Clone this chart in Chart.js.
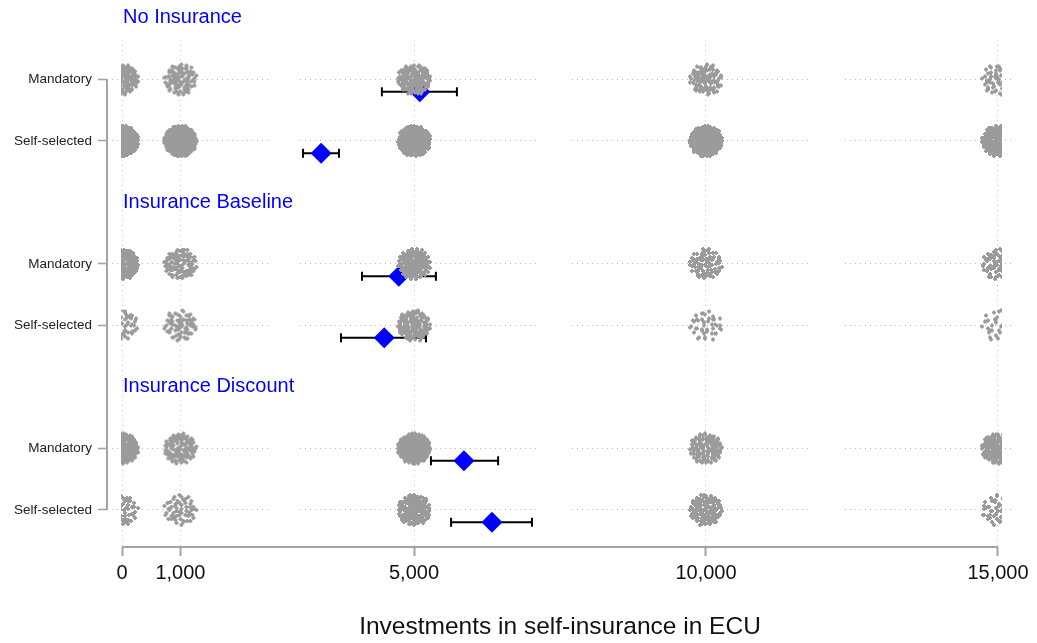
<!DOCTYPE html>
<html>
<head>
<meta charset="utf-8">
<script src="https://cdn.jsdelivr.net/npm/chart.js@4/dist/chart.umd.min.js"></script>
<style>
  html, body { margin: 0; padding: 0; background: #fff; }
  #wrap { width: 1037px; height: 643px; }
</style>
</head>
<body>
<div id="wrap"><canvas id="chart"></canvas></div>
<script>
// treatments and rows
const groups = ['No Insurance', 'Insurance Baseline', 'Insurance Discount'];
const treatments = ['Mandatory', 'Self-selected'];
const xTicks = [0, 1000, 5000, 10000, 15000];

// investment levels where the individual choices pile up
const levels = [0, 1000, 5000, 10000, 15000];

// mean investment and 95% CI, one per row (group x treatment)
const meanInv = [5100, 3410, 4740, 4490, 5855, 6335];
const ciLow = [4450, 3100, 4110, 3750, 5290, 5635];
const ciHigh = [5735, 3715, 5375, 5205, 6440, 7020];

// how many jittered marks each pile shows (rows x levels)
const jitterMarks = [
  [130, 90, 130, 90, 60],
  [300, 300, 240, 230, 170],
  [170, 90, 140, 80, 75],
  [55, 70, 110, 45, 35],
  [210, 100, 210, 110, 150],
  [55, 55, 140, 110, 55]
];

var FONT = '"Liberation Sans", Arial, sans-serif';
var DOT_GRAY = '#9b9b9b';
var MEAN_OFFSET = 0.2; // diamonds sit a little under the row

// slot positions on the y scale: header, Mandatory, Self-selected per group
var rowSlot = [];
var rowLabel = {};
var headerSlot = [];
groups.forEach(function (g, gi) {
  headerSlot.push(gi * 3);
  treatments.forEach(function (t, ti) {
    var s = gi * 3 + 1 + ti;
    rowSlot.push(s);
    rowLabel[s] = t;
  });
});

// dotted row lines break up in a few places, like the original print
function dottedWithBreaks(breaks, total) {
  var dash = [], pos = 0;
  breaks.forEach(function (b) {
    while (pos + 5 <= b[0]) { dash.push(1, 4); pos += 5; }
    dash.push(1, b[1] - pos - 1);
    pos = b[1];
  });
  while (pos + 5 <= total) { dash.push(1, 4); pos += 5; }
  return dash;
}
var rowDash = dottedWithBreaks([[160, 193], [432, 465], [700, 738]], 910);

function halton(i, b) {
  var f = 1, r = 0;
  while (i > 0) { f /= b; r += f * (i % b); i = Math.floor(i / b); }
  return r;
}

// speckled pile texture used as the point style of a pile
function makeBlob(n, seed) {
  var c = document.createElement('canvas');
  c.width = 40; c.height = 38;
  var g = c.getContext('2d');
  g.fillStyle = DOT_GRAY;
  for (var i = 1; i <= n; i++) {
    var k = i + seed * 331;
    var r = 16.5 * Math.sqrt(halton(k, 2));
    var a = 2 * Math.PI * halton(k, 3);
    var px = Math.round(20 + r * Math.cos(a));
    var py = Math.round(19 + r * 0.94 * Math.sin(a));
    g.fillRect(px - 2, py - 1, 4, 2);
    g.fillRect(px - 1, py - 2, 2, 4);
  }
  return c;
}

// build the piles
var pileData = [];
var pileStyles = [];
rowSlot.forEach(function (s, ri) {
  levels.forEach(function (lv, li) {
    pileData.push({ x: lv, y: s });
    pileStyles.push(makeBlob(jitterMarks[ri][li], ri * 5 + li + 1));
  });
});

var datasets = [];
datasets.push({
  label: 'choices',
  data: pileData,
  pointStyle: function (ctx) { return pileStyles[ctx.dataIndex]; },
  pointRadius: 17,
  order: 0,
  clip: { left: -14, right: -11, top: false, bottom: false }
});
datasets.push({
  label: 'mean',
  data: rowSlot.map(function (s, i) { return { x: meanInv[i], y: s + MEAN_OFFSET }; }),
  pointStyle: 'rectRot',
  pointRadius: 10.5,
  backgroundColor: '#0000ff',
  borderColor: '#0000ff',
  borderWidth: 0,
  order: 1
});
rowSlot.forEach(function (s, i) {
  datasets.push({
    label: 'ci' + i,
    type: 'line',
    data: [{ x: ciLow[i], y: s + MEAN_OFFSET }, { x: ciHigh[i], y: s + MEAN_OFFSET }],
    showLine: true,
    borderColor: '#000',
    borderWidth: 2,
    pointStyle: 'line',
    rotation: 90,
    pointRadius: 4.5,
    pointBorderWidth: 2,
    pointBorderColor: '#000',
    order: 2
  });
});

// axis lines limited to the tick range, plus the group headings
var frame = {
  id: 'frame',
  afterDraw: function (chart) {
    var ctx = chart.ctx, xs = chart.scales.x, ys = chart.scales.y, area = chart.chartArea;
    ctx.save();
    ctx.strokeStyle = '#a3a3a3';
    ctx.lineWidth = 2;
    ctx.beginPath();
    ctx.moveTo(area.left, ys.getPixelForValue(rowSlot[0]));
    ctx.lineTo(area.left, ys.getPixelForValue(rowSlot[rowSlot.length - 1]));
    ctx.moveTo(xs.getPixelForValue(xTicks[0]), area.bottom);
    ctx.lineTo(xs.getPixelForValue(xTicks[xTicks.length - 1]), area.bottom);
    ctx.stroke();
    ctx.fillStyle = '#0000ff';
    ctx.font = '20px ' + FONT;
    ctx.textAlign = 'left';
    ctx.textBaseline = 'middle';
    groups.forEach(function (g, gi) {
      ctx.fillText(g, xs.getPixelForValue(0) + 1, ys.getPixelForValue(headerSlot[gi]));
    });
    ctx.restore();
  }
};

new Chart(document.getElementById('chart'), {
  type: 'scatter',
  data: { datasets: datasets },
  plugins: [frame],
  options: {
    responsive: true,
    maintainAspectRatio: false,
    animation: false,
    layout: { padding: { top: 40, right: 24, left: 0, bottom: 0 } },
    plugins: { legend: { display: false }, tooltip: { enabled: false } },
    scales: {
      x: {
        type: 'linear',
        min: -257,
        max: 15257,
        afterBuildTicks: function (scale) {
          scale.ticks = xTicks.map(function (v) { return { value: v }; });
        },
        afterFit: function (scale) { scale.height = 96; },
        border: { display: false, dash: [1, 4] },
        grid: {
          color: '#c4c4c4',
          tickColor: '#a3a3a3',
          tickBorderDash: [],
          tickLength: 9,
          tickWidth: 2
        },
        ticks: {
          color: '#111',
          font: { family: FONT, size: 20 },
          padding: 5,
          maxRotation: 0,
          autoSkip: false,
          callback: function (v) { return v.toLocaleString('en-US'); }
        },
        title: {
          display: true,
          text: 'Investments in self-insurance in ECU',
          color: '#111',
          font: { family: FONT, size: 24.5, lineHeight: 1.2 },
          padding: { top: 0, bottom: 1 }
        }
      },
      y: {
        type: 'linear',
        reverse: true,
        min: 0.358,
        max: 8.602,
        afterBuildTicks: function (scale) {
          scale.ticks = rowSlot.map(function (v) { return { value: v }; });
        },
        afterFit: function (scale) { scale.width = 107; },
        border: { display: false, dash: rowDash },
        grid: {
          color: '#b8b8b8',
          tickColor: '#a3a3a3',
          tickBorderDash: [],
          tickLength: 9,
          tickWidth: 1.5
        },
        ticks: {
          color: '#222',
          font: { family: FONT, size: 13.5 },
          padding: 6,
          autoSkip: false,
          callback: function (v) { return rowLabel[v]; }
        }
      }
    }
  }
});
</script>
</body>
</html>
